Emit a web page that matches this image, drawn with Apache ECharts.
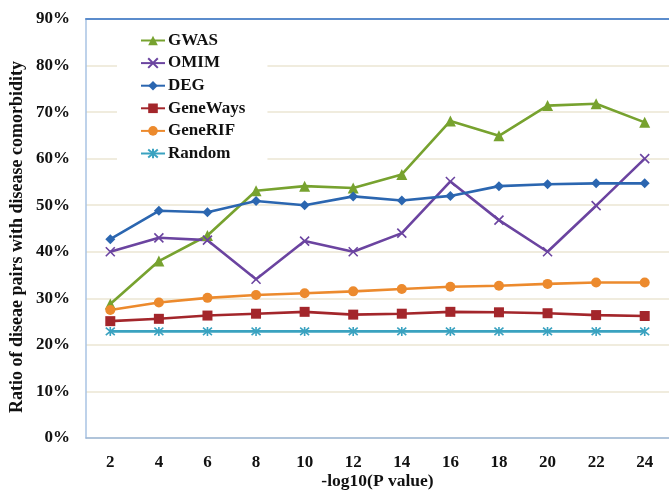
<!DOCTYPE html>
<html>
<head>
<meta charset="utf-8">
<script src="https://cdn.jsdelivr.net/npm/echarts@6/dist/echarts.min.js"></script>
<style>html,body{margin:0;padding:0;background:#fff}#c{width:669px;height:490px}</style>
</head>
<body>
<div id="c"></div>
<script>
const categories = ['2','4','6','8','10','12','14','16','18','20','22','24'];
const gwas     = [28.8, 38.0, 43.5, 53.1, 54.1, 53.7, 56.6, 68.1, 64.9, 71.4, 71.8, 67.8];
const omim     = [40.0, 43.0, 42.5, 34.1, 42.3, 40.0, 44.0, 55.1, 46.8, 40.0, 49.9, 60.0];
const deg      = [42.7, 48.8, 48.5, 50.9, 50.0, 51.9, 51.0, 52.0, 54.1, 54.5, 54.7, 54.7];
const geneWays = [25.1, 25.6, 26.3, 26.7, 27.1, 26.5, 26.7, 27.1, 27.0, 26.8, 26.4, 26.2];
const geneRIF  = [27.5, 29.1, 30.1, 30.7, 31.1, 31.5, 32.0, 32.5, 32.7, 33.1, 33.4, 33.4];
const random   = [22.9, 22.9, 22.9, 22.9, 22.9, 22.9, 22.9, 22.9, 22.9, 22.9, 22.9, 22.9];
const yTicks = {min: 0, max: 90, interval: 10};

const FONT = '"Liberation Serif", "DejaVu Serif", serif';
const XPATH = 'path://M0,0L10,10M10,0L0,10';
const STARPATH = 'path://M0,0L10,10M10,0L0,10M5,-1L5,11';

function mk(name, data, color, symbol, size, stroke) {
  return {
    name, type: 'line', data,
    symbol, symbolSize: size,
    lineStyle: {color, width: 2.6},
    itemStyle: stroke ? {color, borderColor: color, borderWidth: 1.6} : {color},
    emphasis: {disabled: true},
    animation: false
  };
}

const chart = echarts.init(document.getElementById('c'));
chart.setOption({
  animation: false,
  backgroundColor: '#fff',
  grid: {left: 86, right: 0, top: 19, bottom: 52, containLabel: false, outerBoundsMode: 'none'},
  legend: {
    orient: 'vertical', left: 117, top: 26,
    padding: [6, 22, 6, 23],
    backgroundColor: '#fff',
    itemWidth: 24, itemHeight: 12, itemGap: 5.6,
    textStyle: {fontFamily: FONT, fontWeight: 'bold', fontSize: 17, color: '#111', padding: [0, 0, 0, -2]},
    data: ['GWAS','OMIM','DEG','GeneWays','GeneRIF','Random']
  },
  xAxis: [{
    type: 'category', data: categories, boundaryGap: true,
    name: '-log10(P value)', nameLocation: 'middle', nameGap: 34, nameMoveOverlap: false,
    nameTextStyle: {fontFamily: FONT, fontWeight: 'bold', fontSize: 17.5, color: '#111'},
    axisLine: {lineStyle: {color: '#9bb7d9', width: 1.5}},
    axisTick: {show: false},
    axisLabel: {fontFamily: FONT, fontWeight: 'bold', fontSize: 17, color: '#111', margin: 16},
    splitLine: {show: false}
  }, {
    type: 'category', data: categories, position: 'top',
    axisLine: {show: true, lineStyle: {color: '#5b8ccc', width: 2}},
    axisTick: {show: false}, axisLabel: {show: false}, splitLine: {show: false}
  }],
  yAxis: {
    type: 'value', min: yTicks.min, max: yTicks.max, interval: yTicks.interval,
    name: 'Ratio of diseae pairs with disease comorbidity',
    nameLocation: 'middle', nameGap: 60, nameRotate: 90, nameMoveOverlap: false,
    nameTextStyle: {fontFamily: FONT, fontWeight: 'bold', fontSize: 18, color: '#111', padding: [0, 17, 0, 0]},
    axisLine: {show: true, lineStyle: {color: '#a9c3e3', width: 1.5}},
    axisTick: {show: false},
    axisLabel: {formatter: '{value}%', fontFamily: FONT, fontWeight: 'bold', fontSize: 17, color: '#111', margin: 16},
    splitLine: {lineStyle: {color: '#ebe6d3', width: 1.5}}
  },
  series: [
    mk('GWAS', gwas, '#77a22f', 'triangle', 11),
    mk('OMIM', omim, '#6b44a0', XPATH, 9, true),
    mk('DEG', deg, '#2b66b0', 'diamond', 10),
    mk('GeneWays', geneWays, '#a3262b', 'rect', 10),
    mk('GeneRIF', geneRIF, '#ec8a2d', 'circle', 10),
    mk('Random', random, '#3aa2c0', STARPATH, 9, true)
  ]
});
</script>
</body>
</html>
